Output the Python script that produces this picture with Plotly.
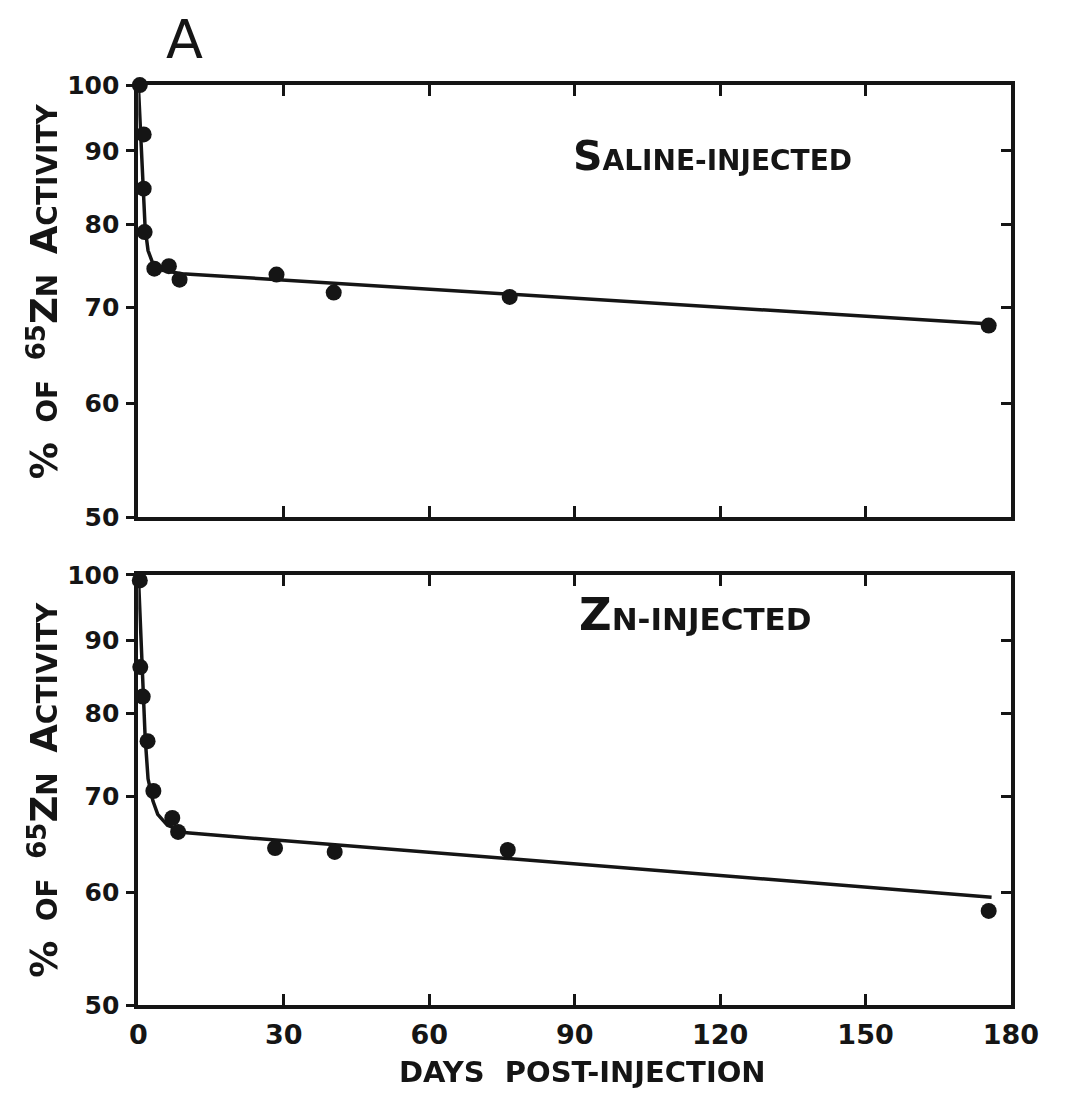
import math
import plotly.graph_objects as go

# ---------------- data ----------------
saline_days = [0.3, 1.1, 1.1, 1.3, 3.3, 6.3, 8.5, 28.5, 40.3, 76.6, 175.4]
saline_pct = [100.0, 92.4, 84.7, 79.0, 74.5, 74.8, 73.2, 73.8, 71.7, 71.2, 68.0]

saline_fit_days = [0, 0.5, 1.0, 1.4, 2, 3, 5, 9, 175]
saline_fit_pct = [100.0, 93.0, 86.0, 79.5, 76.7, 75.1, 74.3, 73.9, 68.2]

zn_days = [0.3, 0.4, 0.9, 1.9, 3.1, 7.0, 8.2, 28.2, 40.5, 76.2, 175.4]
zn_pct = [99.1, 86.2, 82.2, 76.5, 70.6, 67.6, 66.1, 64.4, 64.0, 64.2, 58.2]

zn_fit_days = [0, 0.5, 1.0, 1.4, 2, 3, 4, 6, 10, 176]
zn_fit_pct = [100.0, 92.0, 84.0, 77.0, 72.0, 69.5, 68.0, 66.8, 66.0, 59.5]

x_ticks = [0, 30, 60, 90, 120, 150, 180]
y_ticks = [50, 60, 70, 80, 90, 100]
y_inner_ticks = [60, 70, 80, 90]

W, H = 1066, 1103
FONT = "DejaVu Sans"
INK = "#151515"


def px(x):
    return x / W


def py(y):
    return 1 - y / H


x_dom = [px(134), px(1038)]
top_dom = [py(517), py(73)]
bot_dom = [py(1018), py(576)]
y_range = [math.log10(50), math.log10(100)]

fig = go.Figure()

marker = dict(color=INK, size=16)
line = dict(color=INK, width=3.5)

# bottom panel (Zn-injected): x / y
fig.add_trace(go.Scatter(x=zn_fit_days, y=zn_fit_pct, mode="lines", line=line,
                         xaxis="x", yaxis="y", hoverinfo="skip", cliponaxis=False))
fig.add_trace(go.Scatter(x=zn_days, y=zn_pct, mode="markers", marker=marker,
                         xaxis="x", yaxis="y", cliponaxis=False))
# top panel (Saline-injected): x2 / y2
fig.add_trace(go.Scatter(x=saline_fit_days, y=saline_fit_pct, mode="lines", line=line,
                         xaxis="x2", yaxis="y2", hoverinfo="skip", cliponaxis=False))
fig.add_trace(go.Scatter(x=saline_days, y=saline_pct, mode="markers", marker=marker,
                         xaxis="x2", yaxis="y2", cliponaxis=False))
# invisible carriers for the right-hand inner tick axes
fig.add_trace(go.Scatter(x=zn_days, y=zn_pct, mode="markers", opacity=0,
                         xaxis="x", yaxis="y3", hoverinfo="skip"))
fig.add_trace(go.Scatter(x=saline_days, y=saline_pct, mode="markers", opacity=0,
                         xaxis="x2", yaxis="y4", hoverinfo="skip"))

tickfont = dict(family=FONT, size=25, color=INK, weight="bold")

xcommon = dict(range=[0, 180], tickvals=x_ticks, ticktext=[str(v) for v in x_ticks],
               ticks="inside", ticklen=11, tickwidth=3, tickcolor=INK,
               showline=True, linewidth=4, linecolor=INK, mirror="ticks",
               showgrid=False, zeroline=False, domain=x_dom,
               ticklabeloverflow="allow",
               tickfont=dict(family=FONT, size=27, color=INK, weight="bold"))
ycommon = dict(type="log", range=y_range, tickvals=y_ticks,
               ticktext=[str(v) for v in y_ticks],
               ticks="outside", ticklen=8, tickwidth=3, tickcolor=INK,
               showline=True, linewidth=4, linecolor=INK, mirror=True,
               showgrid=False, zeroline=False, tickfont=tickfont,
               ticklabeloverflow="allow", ticklabelstandoff=2)
yinner = dict(type="log", range=y_range, tickvals=y_inner_ticks, side="right",
              ticks="inside", ticklen=10, tickwidth=3, tickcolor=INK,
              showticklabels=False, showline=False, showgrid=False, zeroline=False)

fig.update_layout(
    width=W, height=H,
    margin=dict(l=0, r=0, t=0, b=0),
    paper_bgcolor="white", plot_bgcolor="white",
    showlegend=False,
    xaxis=dict(**xcommon, anchor="y", ticklabelstandoff=2),
    xaxis2=dict(**xcommon, anchor="y2", showticklabels=False),
    yaxis=dict(**ycommon, domain=bot_dom, anchor="x"),
    yaxis2=dict(**ycommon, domain=top_dom, anchor="x2"),
    yaxis3=dict(**yinner, overlaying="y", anchor="x"),
    yaxis4=dict(**yinner, overlaying="y2", anchor="x2"),
)


def sz(t, s):
    return f"<span style='font-size:{s}px'>{t}</span>"


ytitle = (sz("%", 37) + "  " + sz("OF", 28) + "  " + "<sup>" + sz("65", 26) + "</sup>"
          + sz("Z", 37) + sz("N", 28) + "  " + sz("A", 37) + sz("CTIVITY", 28))

annotations = [
    dict(x=px(182), y=py(26), text="A", font=dict(family=FONT, size=54, color=INK)),
    dict(x=px(729), y=py(146),
         text=sz("S", 41) + sz("ALINE-INJECTED", 28),
         font=dict(family=FONT, size=28, color=INK, weight="bold")),
    dict(x=px(711), y=py(617),
         text=sz("Z", 45) + sz("N-INJECTED", 31),
         font=dict(family=FONT, size=31, color=INK, weight="bold")),
    dict(x=px(36), y=py(285), text=ytitle, textangle=-90,
         font=dict(family=FONT, size=28, color=INK, weight="bold")),
    dict(x=px(36), y=py(797), text=ytitle, textangle=-90,
         font=dict(family=FONT, size=28, color=INK, weight="bold")),
    dict(x=px(594), y=py(1087), text="DAYS  POST-INJECTION",
         font=dict(family=FONT, size=29, color=INK, weight="bold")),
]
for a in annotations:
    a.update(xref="paper", yref="paper", showarrow=False, xanchor="center", yanchor="middle")
fig.update_layout(annotations=annotations)

fig.write_html("out.html")
